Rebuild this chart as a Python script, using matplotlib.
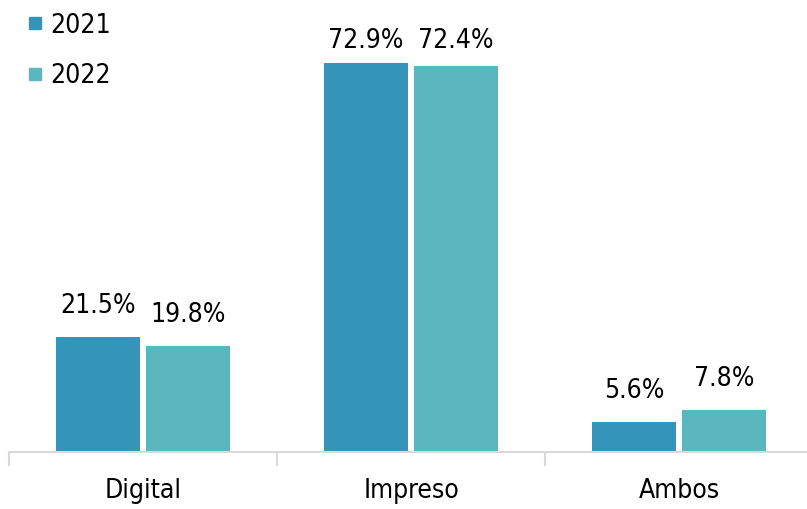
import matplotlib.pyplot as plt
import numpy as np
from matplotlib.lines import Line2D
from matplotlib import font_manager

categorias = ['Digital', 'Impreso', 'Ambos']
valores_2021 = [21.5, 72.9, 5.6]
valores_2022 = [19.8, 72.4, 7.8]
series = ['2021', '2022']
colores = ['#3594BA', '#5AB7C0']

# fuente estrecha si existe
nombres = {f.name for f in font_manager.fontManager.ttflist}
estirar = 'normal'
if 'Liberation Sans Narrow' in nombres:
    familia = ['Liberation Sans Narrow', 'DejaVu Sans']
    tam = 22
else:
    condensadas = [f for f in font_manager.fontManager.ttflist
                   if f.name == 'DejaVu Sans' and f.stretch in ('condensed', 'semi-condensed', 600)]
    familia = ['Liberation Sans', 'DejaVu Sans']
    tam = 19.5
    if condensadas:
        familia = ['DejaVu Sans']
        estirar = 'condensed'
        tam = 19
plt.rcParams['font.family'] = familia
plt.rcParams['font.stretch'] = estirar

fig = plt.figure(figsize=(8.07, 5.09), dpi=100)
ax = fig.add_axes([9 / 807, 57 / 509, 804 / 807, 452 / 509])

x = np.arange(len(categorias))
ancho = 0.313
sep = 0.0112
b1 = ax.bar(x - ancho / 2 - sep, valores_2021, ancho, color=colores[0])
b2 = ax.bar(x + ancho / 2 + sep, valores_2022, ancho, color=colores[1])

for barras in (b1, b2):
    for r in barras:
        y = min(r.get_height() + 3.4, 74.6)
        ax.text(r.get_x() + r.get_width() / 2, y,
                f'{r.get_height():.1f}%', ha='center', va='bottom', fontsize=tam)

ax.set_xlim(-0.5, len(categorias) - 0.5)
ax.set_ylim(0, 84.8)

# ejes
for s in ['top', 'right', 'left']:
    ax.spines[s].set_visible(False)
ax.spines['bottom'].set_color('#D9D9D9')
ax.spines['bottom'].set_linewidth(1.5)
ax.set_yticks([])
ax.set_xticks(np.arange(-0.5, len(categorias), 1))
ax.set_xticklabels([])
ax.tick_params(axis='x', length=10, width=1.5, color='#D9D9D9')
for i, c in enumerate(categorias):
    ax.text(i, -4.9, c, ha='center', va='top', fontsize=tam)

handles = [Line2D([], [], marker='s', linestyle='', markersize=9, color=c) for c in colores]
fig.legend(handles, series, loc='upper left', bbox_to_anchor=(-0.006, 1.022),
           frameon=False, fontsize=tam, handletextpad=0.0, labelspacing=0.93,
           handlelength=1.2)

plt.savefig('out.png', dpi=100)
